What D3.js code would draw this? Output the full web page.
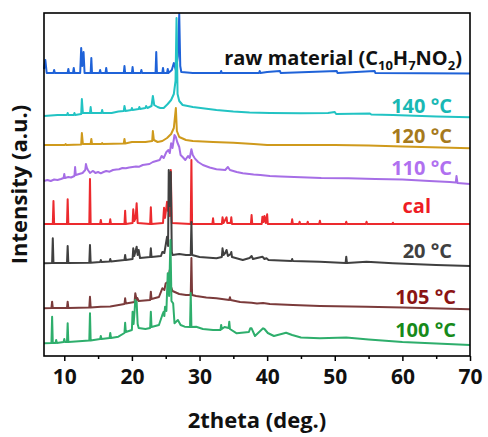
<!DOCTYPE html>
<html>
<head>
<meta charset="utf-8">
<script src="https://cdn.jsdelivr.net/npm/d3@7"></script>
<style>
  body { margin: 0; background: #fff; }
  text { font-family: "Open Sans", "DejaVu Sans", sans-serif; font-weight: bold; }
</style>
</head>
<body>
<div id="chart"></div>
<script>
// 2theta (deg.) vs stacked intensity (a.u.)
var raw = [[7,287],[7.2,296],[7.4,283],[8.4,283],[8.5,286],[8.6,283],[10.5,283],[10.6,287],[10.7,283],
  [11.3,283],[11.4,288],[11.5,283],[12.35,283],[12.5,308],[12.65,290],[12.85,304],[13.0,283],
  [13.9,283],[14.0,298],[14.1,283],[15.2,283],[15.3,286],[15.4,283],[16.1,283],[16.2,288],[16.3,283],
  [18.8,283],[18.9,290],[19.0,283],[20.0,283],[20.1,289],[20.2,283],[21.3,283],[21.4,286],[21.5,283],
  [23.5,283],[23.6,304],[23.7,283],[24.5,283],[24.6,288],[24.7,283],[25.2,283],[25.3,287],[25.4,283],
  [25.9,286],[26.2,293],[26.5,286],[26.8,300],[27.0,342],[27.15,290],[27.3,284],[29,283],
  [33.1,283],[33.2,285],[33.3,283],[38.8,283],[38.9,285],[39,283],[40,284],[41.9,285],[42,283],
  [50.3,285],[50.4,283],[55.9,285],[56,283],[70,282.5]];

var s140 = [[7,240],[9,241],[10.4,241],[10.5,243],[10.6,241],[11.4,241],[11.5,243],[11.6,241],
  [12.5,242],[12.6,257],[12.75,243],[13.8,243],[13.9,249],[14.0,243],[15.5,243],[15.6,246],[15.7,243],
  [17,243],[18,244.5],[18.8,245],[18.9,250],[19.05,245],[19.9,246],[20.0,248],[20.1,246],[21.0,247],
  [21.1,249],[21.2,247],[22.0,248],[22.1,250],[22.3,248],[22.9,250],[23.1,260],[23.3,251],[23.8,249],
  [24.2,248],[24.7,248],[25.3,252],[25.8,256],[26.2,262],[26.45,275],[26.6,338],[26.75,262],[27.0,255],
  [27.5,251],[29.0,249],[32.5,246],[35,244.5],[37.4,243.5],[40.4,243],[45,242.7],[49,243],[50,244],
  [50.2,242],[55.2,242.5],[55.4,241.5],[58.6,241],[65,239.5],[70,238.7]];

var s120 = [[7,211],[10.1,211],[10.2,212],[10.3,211],[12.5,211.5],[12.6,223],[12.75,212],[13.9,212],
  [14.0,217],[14.1,212],[15.5,212],[15.6,213],[15.7,212],[18.8,212.5],[18.9,217],[19.0,212.5],[20.0,214],
  [21,214],[22,214],[23.0,215],[23.1,225],[23.25,216],[23.8,214],[24.5,215],[25.2,218],[25.8,222],
  [26.2,228],[26.5,248],[26.65,225],[27,219],[28,216],[29,215],[32,214],[35,213.3],[38,212],[40,211],
  [50,211],[55,210.5],[60,209.5],[70,207.7]];

var s110 = [[7,175],[7.5,176],[8,175],[8.5,176.5],[9,176],[9.5,177],[9.9,178],[10.0,182],[10.1,178],
  [10.6,179],[11.0,178.5],[11.5,180],[11.6,189],[11.7,181],[12.2,182],[12.7,183],[13.1,186],[13.2,192],
  [13.35,188],[13.5,186],[13.8,183],[14.2,185],[14.4,184.3],[14.6,183],[15.0,184],[15.4,182.7],[15.8,184],
  [16.2,185],[16.7,184.3],[17.2,186],[17.7,186.5],[18.1,186.7],[18.6,188],[19.1,187.7],[19.6,188.5],
  [20.1,189],[20.6,189.5],[21.1,189.3],[21.6,191],[22.1,191.5],[22.6,192],[23.1,194],[23.6,195],[24.1,196],
  [24.4,200],[24.7,198],[25.1,204],[25.4,206],[25.6,203],[25.8,212.7],[26.0,208],[26.3,221],[26.5,219],
  [26.7,214],[27.0,209],[27.2,201],[27.5,199],[27.9,196],[28.3,200],[28.55,198],[28.8,206.7],[29.0,201],
  [29.3,197.7],[29.8,194],[30.5,191],[31.5,188.5],[32.5,186.7],[33.8,186],[34.2,189],[34.5,186],
  [35.5,184],[36.4,182.7],[38,181.5],[39,181],[40.4,180],[42,179.5],[45,178.7],[48,178],[52,177.7],
  [56,177],[60,176.5],[64,175],[67,174],[67.9,173.5],[68.0,180],[68.15,173],[70,172]];

var cal = [[7,132],[8.3,132],[8.4,155],[8.5,132],[10.4,132],[10.5,156.7],[10.6,132],[13.7,132],[13.8,177],
  [13.9,132],[15.3,132],[15.4,136],[15.5,132],[16.7,132],[16.8,136.7],[16.9,132],[18.9,132],[19.0,145.3],
  [19.1,132],[20.1,133],[20.2,146.7],[20.35,135],[20.55,138],[20.7,152.7],[20.85,133],[22.7,132],
  [22.8,148.7],[22.9,132],[24.6,133],[24.75,148.3],[24.9,138],[25.2,154.3],[25.35,145],[25.5,150],
  [25.6,140],[25.75,186],[25.9,133],[28.7,132],[28.8,196],[28.9,132],[31.9,132],[32.0,137.7],[32.1,132],
  [33.3,132],[33.4,138.7],[33.55,133],[34.0,138.7],[34.1,133],[34.6,133],[34.7,138.7],[34.8,132],
  [37.6,132],[37.7,141],[37.8,132],[39.2,132],[39.3,139.3],[39.45,134],[39.6,140],[39.8,133],[40.0,141.7],
  [40.1,132],[43.6,132],[43.7,136.7],[43.8,132],[44.7,132],[44.8,134.3],[44.9,132],[45.9,132],[46.0,134.3],
  [46.1,132],[47.7,132],[47.8,135.3],[47.9,132],[51.6,132],[51.7,134.3],[51.8,132],[54.6,132],[54.7,134.3],
  [54.8,132],[58.5,132],[58.6,133.3],[58.7,132],[70,132]];

var s20 = [[7,92.7],[8.2,93],[8.3,117.7],[8.4,93],[10.4,93],[10.5,110],[10.6,93],[13.7,93.3],[13.8,111],
  [13.9,93.3],[15.3,94],[15.4,96],[15.5,94],[16.7,94.5],[16.8,97],[16.9,94.5],[18.9,96],[19.0,101],
  [19.1,96],[20.1,97],[20.2,107.7],[20.35,100],[20.7,109.3],[20.85,101],[21.0,106],[21.2,98],[22.7,99],
  [22.8,107.7],[22.9,99],[24.3,100],[24.5,104],[24.8,103],[25.2,119.3],[25.35,110],[25.45,186],[25.6,150],
  [25.75,184],[25.9,104],[26.0,101],[27.0,102],[28.0,101],[28.7,101],[28.8,134],[28.9,101],[30,99],
  [32.5,97.7],[33.3,99],[33.4,107.7],[33.55,101],[33.8,103],[34.0,106],[34.2,100],[34.6,102],[34.7,104],
  [34.8,99],[36.4,96],[37.4,98],[37.7,100],[37.9,97],[39.3,99.3],[39.6,97],[39.9,97.7],[40.2,96],
  [43.6,95],[43.7,97],[43.8,95],[47.8,94.3],[51.6,93],[51.7,99.3],[51.8,93],[54.7,94.3],[58.6,92.7],
  [65,91],[70,90]];

var s105 = [[7,47.7],[8.1,48],[8.2,54.3],[8.3,48],[10.4,48],[10.5,54.3],[10.6,48],[13.7,48.5],[13.8,59.3],
  [13.9,48.5],[15.4,49.3],[16.8,49.5],[18.9,52],[19.0,57.7],[19.1,52.5],[20.4,54],[20.5,62.7],[20.7,56],
  [20.8,58],[21,55],[22.7,56],[22.8,64.3],[22.9,57],[24.0,59],[24.5,67.7],[24.8,66],[25.0,72.7],
  [25.3,74],[25.6,86],[25.75,70],[26,65],[27,62],[28.0,61],[28.7,61],[28.8,98],[28.9,61],[29.5,60],
  [31,58.5],[32.5,57.7],[34.4,56],[34.5,58.7],[34.6,56],[36,54],[37.7,53.3],[38.5,52.5],[39.4,53],
  [40.4,52],[43.8,51],[47.8,50],[54.7,49.3],[60,48.5],[70,46.7]];

var s100 = [[7,12.7],[8.1,13],[8.2,39.3],[8.3,13],[8.7,13],[8.8,16],[8.9,13],[9.9,14],[10.0,17],[10.1,14],
  [10.4,14],[10.5,32.7],[10.6,14],[13.7,15.5],[13.8,42.7],[13.9,15.5],[15.3,17],[15.4,20],[15.5,17],
  [16.7,18],[16.8,23],[16.9,18],[18.0,19.3],[18.9,23],[19.0,33.3],[19.1,24],[20.0,26],[20.1,44.3],
  [20.25,32],[20.4,45],[20.5,56],[20.6,50],[20.7,54.3],[20.85,32],[21.0,28],[22.0,27],[22.7,28],
  [22.8,44.3],[22.9,29],[24.0,31],[24.5,41],[24.7,44.3],[24.8,40],[24.9,49.3],[25.1,45],[25.3,82.7],
  [25.5,60],[25.7,116],[25.85,55],[26.1,52.7],[26.3,32.7],[26.8,36],[27.2,31],[27.8,29.3],[28.6,29],
  [28.7,63],[28.8,29],[29.5,29.3],[30.5,27],[32.0,26],[33.1,26],[33.2,31],[33.3,27],[33.7,29],[34.3,28],
  [34.4,34.3],[34.5,27],[35.5,22.7],[37.3,24],[37.5,27.7],[37.7,27.7],[38.2,20],[39.4,27.7],[39.6,27],
  [40.1,23],[41,20],[42.8,23.3],[43.7,21],[45,18.5],[47.8,17.7],[51.7,18.5],[55,16.5],[60,14],
  [65,12.5],[70,11]];

var seriesData = [raw, s140, s120, s110, cal, s20, s105, s100];
var lineColors = ["#1f62d8", "#22c3c3", "#cf9a1c", "#a66ee6", "#ec2a2e", "#404040", "#7b3b3b", "#2eae6c"];
var labelColors = ["#111111", "#1ab8b4", "#a67a1c", "#b070f0", "#ee1c24", "#404040", "#8b1414", "#178a1a"];
var labelText = ["raw material", "140 °C", "120 °C", "110 °C", "cal", "20 °C", "105 °C", "100 °C"];
var labelPos = [[462, 65], [452, 113], [452, 143], [452, 175], [431, 213], [452, 258], [456, 304], [456, 337]];
var majorTicks = [10, 20, 30, 40, 50, 60, 70];
var minorTicks = [15, 25, 35, 45, 55, 65];

var margin = { top: 13, right: 18, bottom: 81, left: 44 },
  width = 488 - margin.left - margin.right,
  height = 437 - margin.top - margin.bottom;

var svg = d3.select("#chart").append("svg")
  .attr("width", 488)
  .attr("height", 437)
  .append("g")
  .attr("transform", "translate(" + margin.left + "," + margin.top + ")");

var x = d3.scaleLinear().domain([7, 70]).range([0, width]);
var y = d3.scaleLinear().domain([0, height]).range([height, 0]);

var line = d3.line()
  .x(function (d) { return x(d[0]); })
  .y(function (d) { return y(d[1]); });

// traces, top one first
svg.selectAll(".trace")
  .data(seriesData)
  .enter().append("path")
  .attr("class", "trace")
  .attr("d", line)
  .attr("fill", "none")
  .attr("stroke", function (d, i) { return lineColors[i]; })
  .attr("stroke-width", 2)
  .attr("stroke-linejoin", "round");

// frame
svg.append("rect")
  .attr("width", width)
  .attr("height", height)
  .attr("fill", "none")
  .attr("stroke", "#000")
  .attr("stroke-width", 1.6);

// x axis
var xAxis = svg.append("g")
  .attr("transform", "translate(0," + height + ")")
  .call(d3.axisBottom(x).tickValues(majorTicks).tickSize(5).tickSizeOuter(0).tickPadding(8));
xAxis.select(".domain").remove();
xAxis.selectAll("line").attr("stroke-width", 1.5);
xAxis.selectAll("text")
  .style("font-size", "21px")
  .style("font-family", "'Open Sans', sans-serif")
  .style("font-weight", "bold")
  .attr("fill", "#111");

var xMinor = svg.append("g")
  .attr("transform", "translate(0," + height + ")")
  .call(d3.axisBottom(x).tickValues(minorTicks).tickSize(3).tickSizeOuter(0).tickFormat(""));
xMinor.select(".domain").remove();
xMinor.selectAll("line").attr("stroke-width", 1.5);

// series labels
var labels = svg.selectAll(".lbl")
  .data(labelText)
  .enter().append("text")
  .attr("class", "lbl")
  .attr("x", function (d, i) { return labelPos[i][0] - margin.left; })
  .attr("y", function (d, i) { return labelPos[i][1] - margin.top; })
  .attr("text-anchor", "end")
  .style("font-size", "20px")
  .attr("fill", function (d, i) { return labelColors[i]; })
  .text(function (d) { return d; });

// formula after "raw material"
var rawLabel = labels.filter(function (d, i) { return i === 0; });
rawLabel.append("tspan").text(" (C");
rawLabel.append("tspan").attr("dy", 5).style("font-size", "13px").text("10");
rawLabel.append("tspan").attr("dy", -5).text("H");
rawLabel.append("tspan").attr("dy", 5).style("font-size", "13px").text("7");
rawLabel.append("tspan").attr("dy", -5).text("NO");
rawLabel.append("tspan").attr("dy", 5).style("font-size", "13px").text("2");
rawLabel.append("tspan").attr("dy", -5).text(")");

// axis titles
svg.append("text")
  .attr("x", width / 2)
  .attr("y", height + 72)
  .attr("text-anchor", "middle")
  .style("font-size", "22px")
  .attr("fill", "#111")
  .text("2theta (deg.)");

svg.append("text")
  .attr("transform", "rotate(-90)")
  .attr("x", -height / 2)
  .attr("y", -17)
  .attr("text-anchor", "middle")
  .style("font-size", "22px")
  .attr("fill", "#111")
  .text("Intensity (a.u.)");
</script>
</body>
</html>
